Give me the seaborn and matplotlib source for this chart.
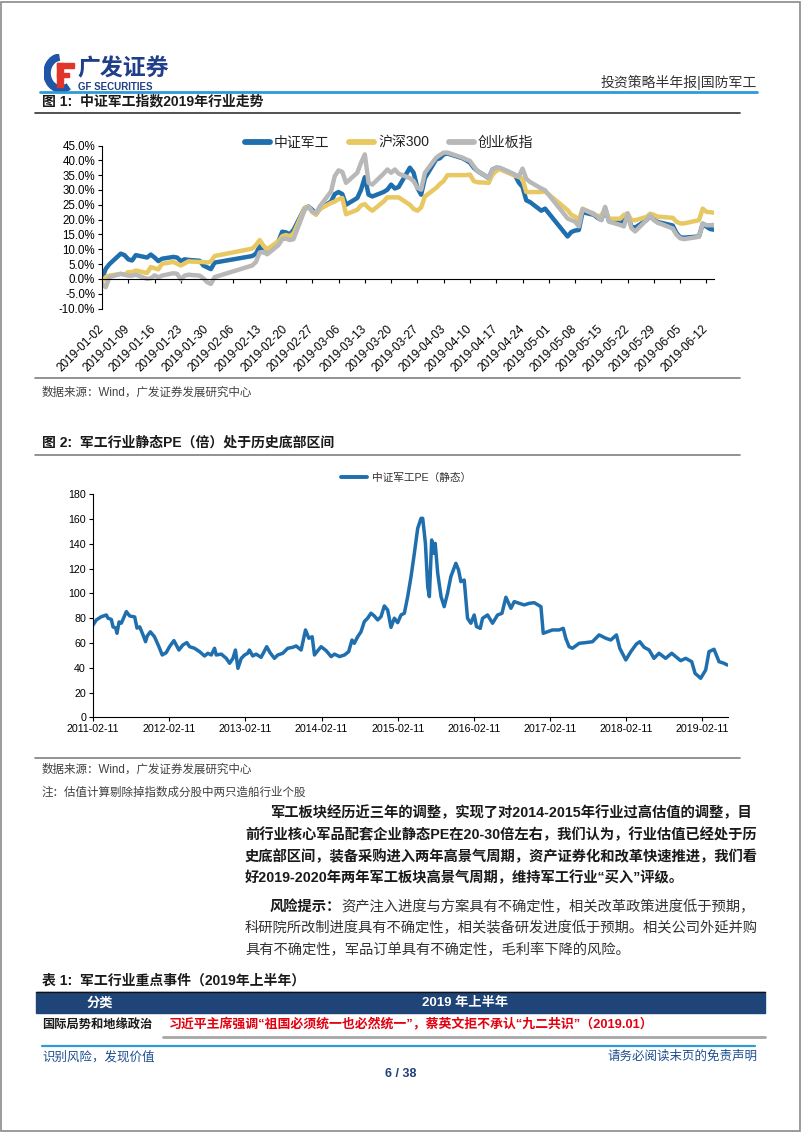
import numpy as np
import pandas as pd
import seaborn as sns
import matplotlib.pyplot as plt
import matplotlib.dates as mdates
from matplotlib.ticker import FuncFormatter
from matplotlib.lines import Line2D
from matplotlib.patches import Rectangle, Arc

W, H = 802, 1133

# ---------------- 图1: 中证军工 / 沪深300 / 创业板指 (2019年累计涨跌幅 %) ----------------
trade_days = (
    ['2019-01-%02d' % d for d in [2, 3, 4, 7, 8, 9, 10, 11, 14, 15, 16, 17, 18, 21, 22, 23, 24, 25, 28, 29, 30, 31]]
    + ['2019-02-%02d' % d for d in [1, 11, 12, 13, 14, 15, 18, 19, 20, 21, 22, 25, 26, 27, 28]]
    + ['2019-03-%02d' % d for d in [1, 4, 5, 6, 7, 8, 11, 12, 13, 14, 15, 18, 19, 20, 21, 22, 25, 26, 27, 28, 29]]
    + ['2019-04-%02d' % d for d in [1, 2, 3, 4, 8, 9, 10, 11, 12, 15, 16, 17, 18, 19, 22, 23, 24, 25, 26, 29, 30]]
    + ['2019-05-%02d' % d for d in [6, 7, 8, 9, 10, 13, 14, 15, 16, 17, 20, 21, 22, 23, 24, 27, 28, 29, 30, 31]]
    + ['2019-06-%02d' % d for d in [3, 4, 5, 6, 10, 11, 12, 13, 14]]
)

zzjg = [0, 3.4, 5.0, 8.5, 8.0, 6.6, 6.2, 8.0, 7.2, 8.2, 7.2, 6.0, 6.8, 7.4, 7.2, 6.0, 6.6, 6.4, 6.1, 4.5, 3.9, 3.3,
        5.5, 7.7, 8.5, 11.0, 9.0, 8.8, 12.7, 15.9, 15.7, 15.0, 16.5, 23.9, 24.4, 23.3, 21.9,
        23.6, 26.1, 28.6, 29.3, 28.6, 25.0, 27.3, 30.1, 34.3, 28.4, 27.8, 29.3, 30.1, 31.8, 30.5, 31.0, 37.5, 35.8, 30.7, 28.4, 34.0,
        40.3, 40.7, 42.0, 42.3, 40.7, 40.0, 39.2, 37.5, 36.4, 34.0, 36.9, 37.5, 37.3, 36.8, 35.0, 32.5, 31.0, 26.5, 25.9, 23.0, 23.7,
        14.3, 15.8, 16.3, 16.5, 22.5, 21.6, 20.6, 19.9, 23.8, 19.6, 19.5, 19.2, 22.0, 17.6, 17.3, 19.8, 21.2, 20.0, 19.2, 18.9,
        18.0, 15.5, 14.0, 13.9, 14.3, 18.6, 17.6, 16.8, 16.6]

hs300 = [-1.1, 0.6, 1.1, 1.7, 1.4, 2.3, 2.3, 2.8, 2.0, 4.0, 3.6, 3.2, 5.1, 5.7, 5.1, 4.5, 5.2, 5.9, 5.7, 5.7, 5.5, 5.9,
         7.7, 10.2, 11.4, 13.1, 11.2, 10.0, 12.7, 14.4, 14.8, 14.4, 15.3, 23.9, 24.4, 22.5, 21.6,
         23.6, 25.6, 26.1, 26.9, 27.3, 21.8, 23.3, 24.8, 25.2, 23.9, 23.0, 26.1, 27.5, 27.5, 27.5, 27.5, 25.0, 23.6, 23.0, 24.1, 27.8,
         30.7, 32.0, 33.0, 35.0, 35.0, 35.0, 35.2, 33.0, 32.6, 32.4, 35.2, 36.4, 37.0, 36.4, 34.8, 34.4, 33.8, 29.3, 29.3, 29.3, 29.5,
         23.2, 21.6, 21.0, 19.8, 23.7, 21.8, 21.2, 21.4, 23.7, 20.3, 20.3, 21.6, 22.0, 19.8, 19.8, 20.9, 22.0, 21.6, 21.0, 20.9,
         20.6, 19.3, 18.7, 18.7, 19.8, 23.7, 22.6, 22.5, 22.3]

cybz = [-1.7, -2.8, 0.6, 1.7, 1.4, 1.1, 1.1, 1.4, 0.0, 0.2, 1.2, 0.5, 1.1, 1.9, 1.7, -0.2, 1.1, 1.4, 1.1, 0.2, -1.1, -1.7,
        0.6, 4.5, 5.7, 8.9, 9.1, 8.3, 11.4, 13.4, 13.6, 13.1, 13.4, 23.3, 24.4, 22.7, 22.2,
        24.4, 29.5, 34.7, 36.6, 36.1, 32.4, 35.8, 39.2, 42.0, 32.4, 31.8, 35.5, 36.9, 35.8, 36.9, 35.5, 34.0, 33.0, 30.7, 30.1, 35.8,
        40.9, 41.8, 42.6, 42.6, 40.9, 40.3, 39.8, 38.0, 36.4, 34.0, 36.9, 37.5, 37.5, 36.9, 35.2, 34.5, 37.2, 33.8, 32.7, 30.5, 29.9,
        20.4, 19.8, 19.3, 17.7, 23.5, 22.0, 20.9, 19.8, 24.3, 19.3, 18.2, 17.7, 22.0, 17.1, 16.0, 19.8, 21.5, 19.8, 18.9, 18.5,
        17.0, 14.9, 13.7, 13.4, 14.2, 18.7, 18.1, 18.1, 18.2]

idx_names = ['中证军工', '沪深300', '创业板指']
idx_colors = ['#1f6fae', '#e8c862', '#b8b8b8']

# ---------------- 图2: 中证军工PE（静态） ----------------
pe_dates = ['2011-02-11', '2011-02-27', '2011-03-23', '2011-04-16', '2011-04-24', '2011-05-10', '2011-05-18', '2011-05-31',
            '2011-06-06', '2011-06-16', '2011-06-27', '2011-07-21', '2011-08-06', '2011-08-30', '2011-09-10', '2011-09-23',
            '2011-10-09', '2011-10-21', '2011-10-29', '2011-11-13', '2011-12-03', '2011-12-24',
            '2012-01-09', '2012-01-28', '2012-02-13', '2012-03-05', '2012-03-29', '2012-04-17', '2012-05-06', '2012-05-19',
            '2012-06-12', '2012-07-06', '2012-07-30', '2012-08-15', '2012-08-31', '2012-09-16', '2012-09-24', '2012-10-18',
            '2012-11-11', '2012-11-27', '2012-12-13', '2012-12-25',
            '2013-01-06', '2013-01-22', '2013-02-07', '2013-02-22', '2013-03-02', '2013-03-18', '2013-04-03', '2013-04-27',
            '2013-05-24', '2013-06-09', '2013-06-30', '2013-07-16', '2013-08-09', '2013-09-02', '2013-09-26', '2013-10-12',
            '2013-11-05', '2013-11-26', '2013-12-12', '2013-12-28',
            '2014-01-08', '2014-01-24', '2014-02-09', '2014-03-05', '2014-03-29', '2014-04-14', '2014-05-08', '2014-06-01',
            '2014-06-21', '2014-07-07', '2014-07-18', '2014-08-03', '2014-08-19', '2014-09-04', '2014-09-20', '2014-10-06',
            '2014-10-22', '2014-11-07', '2014-11-23', '2014-12-09', '2014-12-25',
            '2015-01-10', '2015-01-26', '2015-02-11', '2015-02-27', '2015-03-15', '2015-03-31', '2015-04-16', '2015-05-02',
            '2015-05-18', '2015-06-03', '2015-06-11', '2015-06-24', '2015-07-05', '2015-07-13', '2015-07-24', '2015-08-02',
            '2015-08-10', '2015-08-22', '2015-09-07', '2015-09-22', '2015-10-08', '2015-10-24', '2015-11-17', '2015-11-30',
            '2015-12-11', '2015-12-27',
            '2016-01-12', '2016-01-28', '2016-02-13', '2016-02-24', '2016-03-13', '2016-03-24', '2016-04-17', '2016-05-11',
            '2016-06-04', '2016-06-25', '2016-07-14', '2016-08-07', '2016-08-23', '2016-09-16', '2016-10-10', '2016-11-03',
            '2016-11-27', '2016-12-29',
            '2017-01-09', '2017-01-30', '2017-02-22', '2017-03-26', '2017-04-15', '2017-04-27', '2017-05-13', '2017-05-29',
            '2017-06-30', '2017-08-01', '2017-09-02', '2017-10-04', '2017-11-05', '2017-11-29', '2017-12-26',
            '2018-01-11', '2018-02-09', '2018-03-05', '2018-04-01', '2018-04-17', '2018-05-08', '2018-06-01', '2018-06-24',
            '2018-07-18', '2018-08-19', '2018-09-17', '2018-10-06', '2018-10-30', '2018-11-23', '2018-12-22',
            '2019-01-07', '2019-02-03', '2019-02-27', '2019-03-15', '2019-04-08', '2019-05-02', '2019-05-26', '2019-06-11']

pe_values = [74.5, 78.6, 81.2, 82.6, 80, 79, 73, 72, 67.8, 77, 76, 85.3, 81.8, 81, 72, 73, 66.5, 61, 65.6, 69, 65, 57,
             50.3, 52.2, 57, 61.9, 54.3, 58.4, 60.3, 57, 55.7, 53, 49.5, 51.7, 50.3, 55.7, 50.3, 51, 47.6, 43.6, 47.6, 54.3,
             39.5, 47.6, 50.3, 51.7, 54.3, 49.5, 51, 48.4, 57, 52.2, 47.6, 50.3, 51.7, 55.7, 56.5, 57.6, 54.3, 70.5, 63.8, 65,
             50.3, 53.8, 57, 53.8, 49, 51, 49, 50.3, 53, 62.4, 59.7, 65, 69, 77.2, 80, 84, 81.8, 78.6, 81.2, 89.9, 86.6,
             72.6, 80, 76.4, 82.6, 84, 97.4, 113.5, 132.4, 152.5, 160.6, 160.6, 140.4, 105.4, 97.4, 143.1, 132.4, 140.4,
             116.2, 97.4, 89.3, 100, 113.5, 124.3, 118.9, 109.5, 110.8,
             79.9, 75.9, 82.6, 73.2, 71.8, 79.9, 82.6, 75.9, 82.6, 83.9, 96.9, 88, 93.4, 92, 90.7, 92, 92.5, 89.3,
             67.8, 69.1, 70.5, 70.5, 71.8, 63.8, 57, 55.7, 59.7, 60.3, 61, 66.5, 63.8, 62.4, 66.5,
             55.7, 46.3, 53, 59.2, 61, 56.5, 54.3, 47.6, 51.7, 47.6, 51.7, 49, 45.7, 47.6, 44.9,
             35.5, 31.5, 38.2, 53, 54.9, 44.9, 43.6, 42.2]

pe_ticks = ['2011-02-11', '2012-02-11', '2013-02-11', '2014-02-11', '2015-02-11',
            '2016-02-11', '2017-02-11', '2018-02-11', '2019-02-11']

# ---------------- 正文 ----------------
para1 = ['军工板块经历近三年的调整，实现了对2014-2015年行业过高估值的调整，目',
         '前行业核心军品配套企业静态PE在20-30倍左右，我们认为，行业估值已经处于历',
         '史底部区间，装备采购进入两年高景气周期，资产证券化和改革快速推进，我们看',
         '好2019-2020年两年军工板块高景气周期，维持军工行业“买入”评级。']
risk_head = '风险提示：'
para2 = ['资产注入进度与方案具有不确定性，相关改革政策进度低于预期，',
         '科研院所改制进度具有不确定性，相关装备研发进度低于预期。相关公司外延并购',
         '具有不确定性，军品订单具有不确定性，毛利率下降的风险。']

sns.set_theme(style='ticks')
plt.rcParams['font.family'] = ['Liberation Sans', 'Noto Sans CJK SC', 'DejaVu Sans']
plt.rcParams['axes.unicode_minus'] = False

fig = plt.figure(figsize=(W / 100, H / 100), dpi=100)
fig.patch.set_facecolor('white')


def fx(x):
    return x / W


def fy(y):
    return 1 - y / H


def put(x, y, s, size, **kw):
    kw.setdefault('va', 'center')
    return fig.text(fx(x), fy(y), s, fontsize=size, **kw)


def hline(x0, x1, y, color, lw):
    fig.add_artist(Line2D([fx(x0), fx(x1)], [fy(y), fy(y)], color=color, lw=lw))


# page frame
fig.add_artist(Rectangle((fx(1), fy(1131)), (W - 3) / W, 1129 / H, fill=False, ec='#8a8a8a', lw=1.2))

# header / logo
lax = fig.add_axes([fx(44), fy(92), 34 / W, 38 / H])
lax.set_xlim(0, 34)
lax.set_ylim(0, 38)
lax.axis('off')
lax.add_patch(Arc((17, 19), 28, 32, theta1=95, theta2=300, lw=5.5, color='#1f56a8'))
lax.add_patch(Rectangle((13, 5), 5.5, 24, color='#e0352b'))
lax.add_patch(Rectangle((13, 24), 17, 5, color='#e0352b'))
lax.add_patch(Rectangle((13, 15), 12, 4.5, color='#e0352b'))
put(77, 69, '广发证券', 16.5, fontweight='bold', color='#1f3f8a')
put(78, 87, 'GF SECURITIES', 7, fontweight='bold', color='#1f3f8a')
put(757, 82, '投资策略半年报|国防军工', 10, ha='right', color='#333333')
hline(40, 757, 92, '#2e9bd6', 2.0)

# ---- figure 1 ----
put(42, 101, '图 1:  中证军工指数2019年行业走势', 10, fontweight='bold', color='#1a1a1a')
hline(35, 740, 113, '#333333', 1.2)

df_idx = pd.DataFrame({
    'date': pd.to_datetime(trade_days * 3),
    'pct': zzjg + hs300 + cybz,
    'series': [idx_names[0]] * len(trade_days) + [idx_names[1]] * len(trade_days) + [idx_names[2]] * len(trade_days),
})

ax1 = fig.add_axes([fx(102), fy(308.5), (714 - 102) / W, (308.5 - 145.5) / H])
sns.lineplot(data=df_idx, x='date', y='pct', hue='series', hue_order=idx_names, palette=idx_colors,
             linewidth=3.2, estimator=None, legend=False, ax=ax1)
for ln in ax1.get_lines():
    ln.set_solid_capstyle('round')
    ln.set_solid_joinstyle('round')
ax1.set_xlim(pd.Timestamp('2019-01-02'), pd.Timestamp('2019-06-14'))
ax1.set_ylim(-10, 45)
ax1.set_yticks(np.arange(-10, 46, 5))
ax1.yaxis.set_major_formatter(FuncFormatter(lambda v, p: f'{v:.1f}%'))
ax1.set_xticks(pd.date_range('2019-01-02', '2019-06-12', freq='7D'))
ax1.xaxis.set_major_formatter(mdates.DateFormatter('%Y-%m-%d'))
ax1.set_xlabel('')
ax1.set_ylabel('')
ax1.spines['bottom'].set_position(('data', 0))
for s in ['top', 'right']:
    ax1.spines[s].set_visible(False)
for s in ['left', 'bottom']:
    ax1.spines[s].set_color('black')
    ax1.spines[s].set_linewidth(0.8)
ax1.tick_params(axis='y', direction='out', length=3, width=0.8, labelsize=8.3, pad=2, colors='black')
ax1.tick_params(axis='x', direction='out', length=3, width=0.8, labelsize=8.5, pad=32, colors='black')
for lab in ax1.get_xticklabels():
    lab.set_rotation(45)
    lab.set_ha('right')
    lab.set_va('center')
    lab.set_rotation_mode('anchor')

h1 = [Line2D([], [], color=c, lw=4.2, solid_capstyle='round') for c in idx_colors]
fig.legend(h1, idx_names, loc='center', bbox_to_anchor=(fx(389), fy(143)), ncol=3, frameon=False,
           handlelength=1.8, handletextpad=0.3, columnspacing=1.4, prop={'size': 10}, labelcolor='#222222')

hline(35, 740, 378, '#7f7f7f', 1.2)
put(42, 393, '数据来源：Wind，广发证券发展研究中心', 8.3, color='#404040')

# ---- figure 2 ----
put(42, 443, '图 2:  军工行业静态PE（倍）处于历史底部区间', 10, fontweight='bold', color='#1a1a1a')
hline(35, 740, 455, '#7f7f7f', 1.2)

df_pe = pd.DataFrame({'date': pd.to_datetime(pe_dates), 'pe': pe_values})
ax2 = fig.add_axes([fx(93), fy(717.3), (728 - 93) / W, (717.3 - 494.3) / H])
sns.lineplot(data=df_pe, x='date', y='pe', color='#1f6fae', linewidth=2.5, estimator=None, ax=ax2)
ax2.get_lines()[0].set_solid_joinstyle('round')
ax2.set_xlim(pd.Timestamp('2011-02-11'), pd.Timestamp('2019-06-14'))
ax2.set_ylim(0, 180)
ax2.set_yticks(np.arange(0, 181, 20))
ax2.set_xticks(pd.to_datetime(pe_ticks))
ax2.xaxis.set_major_formatter(mdates.DateFormatter('%Y-%m-%d'))
ax2.set_xlabel('')
ax2.set_ylabel('')
for s in ['top', 'right']:
    ax2.spines[s].set_visible(False)
for s in ['left', 'bottom']:
    ax2.spines[s].set_color('black')
    ax2.spines[s].set_linewidth(0.8)
ax2.tick_params(axis='both', direction='out', length=3, width=0.8, labelsize=7.7, pad=2, colors='black')

h2 = [Line2D([], [], color='#1f6fae', lw=2.8)]
fig.legend(h2, ['中证军工PE（静态）'], loc='center left', bbox_to_anchor=(fx(331), fy(478)), frameon=False,
           handlelength=2.5, handletextpad=0.4, prop={'size': 7.7}, labelcolor='#333333')

hline(35, 740, 758, '#7f7f7f', 1.2)
put(42, 770, '数据来源：Wind，广发证券发展研究中心', 8.3, color='#404040')
put(42, 793, '注：估值计算剔除掉指数成分股中两只造船行业个股', 8.3, color='#404040')

# ---- body text ----
body_y = [813, 835, 857, 878]
for i, (line, y) in enumerate(zip(para1, body_y)):
    put(270 if i == 0 else 245, y, line, 10.3, fontweight='bold', color='#1a1a1a')
put(270, 907, risk_head, 10.3, fontweight='bold', color='#1a1a1a')
put(270 + 5 * 14.3, 907, para2[0], 10.3, color='#333333')
put(245, 928, para2[1], 10.3, color='#333333')
put(245, 950, para2[2], 10.3, color='#333333')

# ---- table ----
put(42, 981, '表 1:  军工行业重点事件（2019年上半年）', 10, fontweight='bold', color='#1a1a1a')
fig.add_artist(Rectangle((fx(36), fy(1013)), (765 - 36) / W, 21 / H, color='#1f4478'))
hline(36, 765, 992, '#111111', 1.0)
put(100, 1003, '分类', 9.5, ha='center', fontweight='bold', color='white')
put(465, 1003, '2019 年上半年', 9.5, ha='center', fontweight='bold', color='white')
put(42, 1025, '国际局势和地缘政治', 8.8, fontweight='bold', color='#1a1a1a')
put(169, 1025, '习近平主席强调“祖国必须统一也必然统一”，蔡英文拒不承认“九二共识”（2019.01）', 9.3,
    fontweight='bold', color='#e3000f')
hline(163, 765, 1037, '#a6a6a6', 2.0)
hline(42, 755, 1046, '#2e9bd6', 1.6)

# ---- footer ----
put(42, 1057, '识别风险，发现价值', 9, color='#1f4f90')
put(757, 1057, '请务必阅读末页的免责声明', 9, ha='right', color='#1f4f90')
put(401, 1074, '6 / 38', 9, ha='center', fontweight='bold', color='#1f3f7a')

fig.savefig('out.png', dpi=100)
